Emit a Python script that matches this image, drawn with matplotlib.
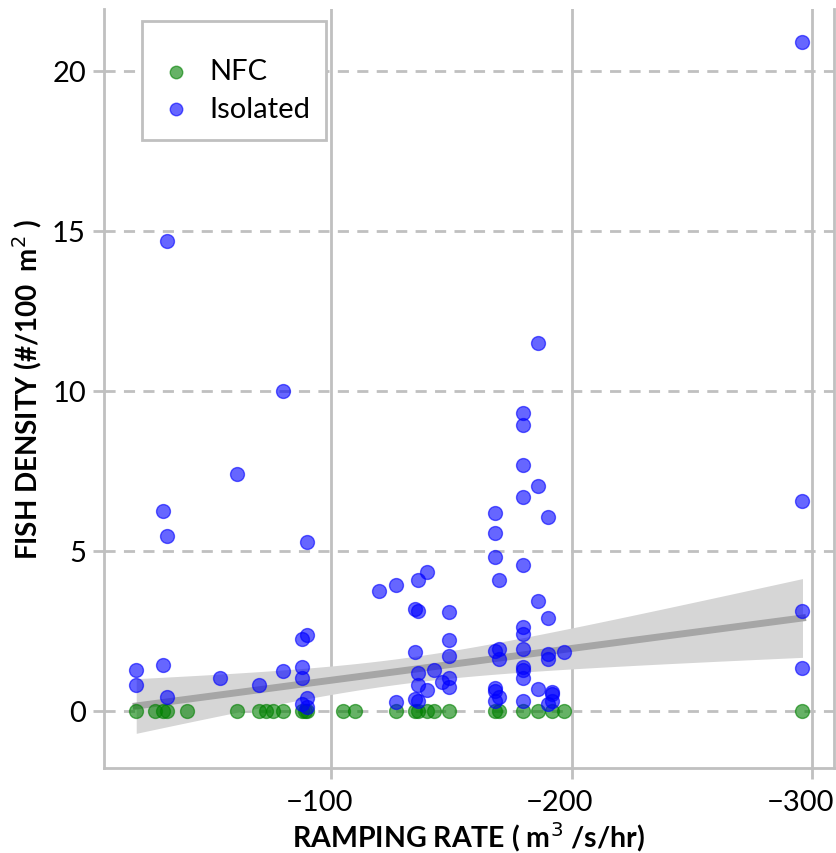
import numpy as np
import matplotlib
matplotlib.use('Agg')
import matplotlib.pyplot as plt
import matplotlib.transforms as mtransforms
from matplotlib.patches import Rectangle

plt.rcParams['font.family'] = ['Lato', 'DejaVu Sans']

# NFC sites (all zero density)
nfc_x = [-19, -27, -30, -32, -40, -61, -70, -73, -76, -80, -88, -89, -90,
         -105, -110, -127, -135, -136, -140, -143, -149, -168, -170, -180,
         -186, -192, -197, -296]
nfc_y = [0] * len(nfc_x)

# Isolated sites
iso_x = [-19, -19,
         -30, -30,
         -32, -32, -32,
         -54, -61, -70,
         -80, -80,
         -88, -88, -88, -88,
         -90, -90, -90, -90,
         -120,
         -127, -127,
         -135, -135, -135,
         -136, -136, -136, -136, -136,
         -140, -140, -143, -146,
         -149, -149, -149, -149, -149,
         -168, -168, -168, -168, -168, -168, -168,
         -170, -170, -170, -170,
         -180, -180, -180, -180, -180, -180, -180, -180, -180, -180, -180, -180,
         -186, -186, -186, -186,
         -190, -190, -190, -190, -190,
         -192, -192, -192,
         -197,
         -296, -296, -296, -296]
iso_y = [1.26, 0.82,
         1.42, 6.25,
         14.69, 5.47, 0.43,
         1.03, 7.41, 0.81,
         10.0, 1.24,
         2.23, 1.38, 1.03, 0.22,
         2.38, 5.28, 0.40, 0.12,
         3.74,
         3.94, 0.27,
         3.19, 1.83, 0.37,
         4.09, 3.13, 1.19, 0.79, 0.30,
         4.34, 0.65, 1.26, 0.90,
         3.10, 2.21, 1.71, 1.02, 0.73,
         6.19, 5.56, 4.80, 1.88, 0.71, 0.62, 0.30,
         4.09, 1.92, 1.63, 0.43,
         9.30, 8.92, 7.69, 6.67, 4.54, 2.63, 2.41, 1.94, 1.36, 1.26, 1.03, 0.29,
         11.48, 7.02, 3.43, 0.67,
         6.04, 2.91, 1.76, 1.63, 0.20,
         0.60, 0.52, 0.30,
         1.83,
         20.9, 6.56, 3.13, 1.34]

# fitted trend: y = a + b*x, band half width sqrt(c0 + c1*(x-xm)^2)
fit_a = -0.04
fit_b = -0.00993
band_c0 = 0.16
band_c1 = 4.8e-5
band_xm = -128

grey = '#c0c0c0'

fig = plt.figure(figsize=(8.36, 8.54), dpi=100)
ax = fig.add_axes([0.1244, 0.0995, 0.8732, 0.8888])

allx = np.array(nfc_x + iso_x, dtype=float)
xs = np.linspace(allx.max(), allx.min(), 100)
fit = fit_a + fit_b * xs
hw = np.sqrt(band_c0 + band_c1 * (xs - band_xm) ** 2)
ax.fill_between(xs, fit - hw, fit + hw, color='#d6d6d6', lw=0, zorder=2)
ax.plot(xs, fit, color='#a6a6a6', lw=5, zorder=3)

ax.scatter(nfc_x, nfc_y, s=100, color='green', alpha=0.6, edgecolor='green',
           linewidth=1, label='NFC', zorder=4)
ax.scatter(iso_x, iso_y, s=100, color='blue', alpha=0.6, edgecolor='blue',
           linewidth=1, label='Isolated', zorder=4)

ax.set_xlim(-5.6, -309.1)
ax.set_ylim(-1.79, 21.93)
ax.set_xticks([-100, -200, -300])
ax.set_yticks([0, 5, 10, 15, 20])

ax.grid(axis='x', color=grey, lw=2, ls='-', zorder=1)
ax.grid(axis='y', color=grey, lw=2, ls=(0, (4, 3)), zorder=1)
ax.set_axisbelow(True)

for side in ['left', 'bottom', 'right']:
    ax.spines[side].set_color(grey)
    ax.spines[side].set_linewidth(2)
ax.spines['top'].set_visible(False)
ax.tick_params(axis='both', color=grey, width=2, length=8, labelsize=21,
               labelcolor='black')
ax.tick_params(axis='x', pad=7)
ax.tick_params(axis='y', pad=5)

# x tick labels sit a little left of their ticks in the original
shift = mtransforms.ScaledTranslation(-12 / 100, 0, fig.dpi_scale_trans)
for lab in ax.get_xticklabels():
    lab.set_transform(lab.get_transform() + shift)

ax.set_xlabel(r'RAMPING RATE ( m$^3$ /s/hr)', fontsize=20.5, fontweight='bold', labelpad=3)
ax.set_ylabel(r'FISH DENSITY (#/100  m$^2$ )', fontsize=20, fontweight='bold', labelpad=6)

# legend box drawn separately so its padding can match
ax.add_patch(Rectangle((0.0521, 0.827), 0.2519, 0.157, transform=ax.transAxes,
                       facecolor='white', edgecolor=grey, lw=2, zorder=5))
leg = ax.legend(loc='upper left', bbox_to_anchor=(0.0823, 0.9348), fontsize=21,
                frameon=False, handlelength=0.8, handletextpad=0.76,
                borderpad=0, borderaxespad=0, labelspacing=0.39,
                markerscale=0.9)
leg.set_zorder(6)

plt.savefig('out.png', dpi=100)
